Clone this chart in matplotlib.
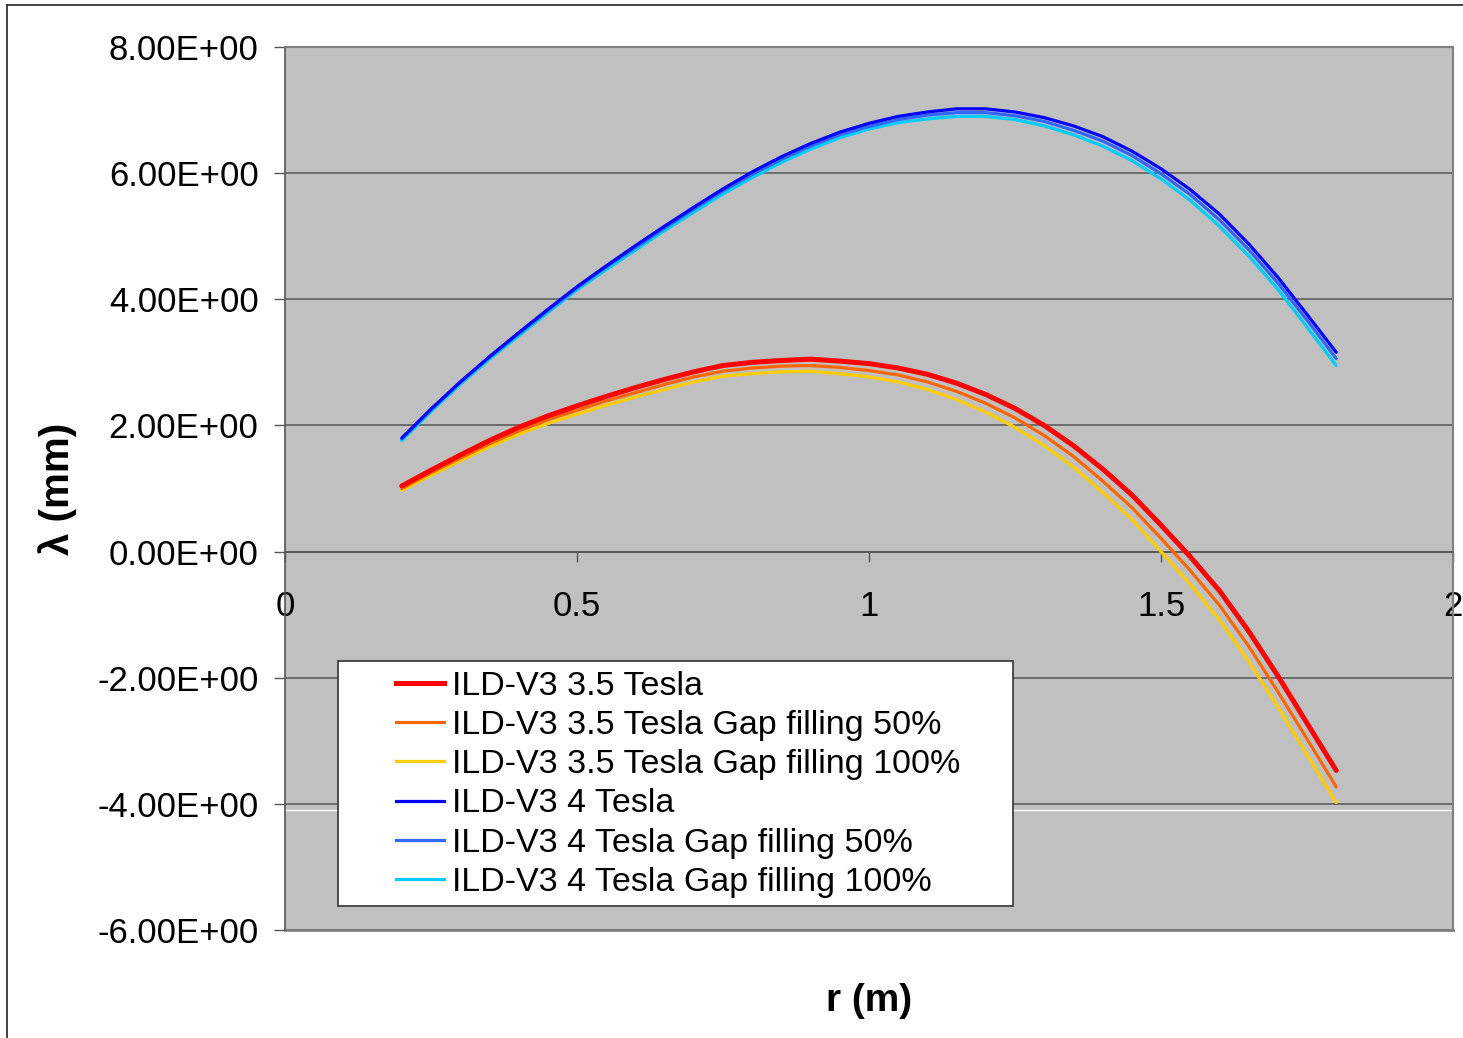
import numpy as np
import matplotlib
matplotlib.use("Agg")
import matplotlib.pyplot as plt
from matplotlib.patches import Rectangle
from matplotlib.lines import Line2D
from matplotlib.ticker import FuncFormatter

plt.rcParams["font.family"] = ["Liberation Sans", "DejaVu Sans"]

# rayon (m)
r = [0.20, 0.25, 0.30, 0.35, 0.40, 0.45, 0.50, 0.55, 0.60, 0.65, 0.70,
     0.75, 0.80, 0.85, 0.90, 0.95, 1.00, 1.05, 1.10, 1.15, 1.20, 1.25,
     1.30, 1.35, 1.40, 1.45, 1.50, 1.55, 1.60, 1.65, 1.70, 1.75, 1.80]

# lambda (mm), 3.5 Tesla
t35 = [1.04, 1.29, 1.53, 1.76, 1.97, 2.15, 2.31, 2.46, 2.60, 2.73, 2.85,
       2.95, 3.00, 3.03, 3.05, 3.02, 2.98, 2.91, 2.81, 2.67, 2.49, 2.27,
       2.00, 1.68, 1.31, 0.90, 0.42, -0.08, -0.62, -1.26, -1.97, -2.72, -3.47]
t35_gap50 = [1.00, 1.25, 1.48, 1.71, 1.91, 2.09, 2.24, 2.39, 2.52, 2.65, 2.77,
             2.86, 2.91, 2.94, 2.95, 2.92, 2.87, 2.80, 2.69, 2.54, 2.35, 2.12,
             1.84, 1.51, 1.12, 0.70, 0.21, -0.30, -0.85, -1.50, -2.22, -2.97, -3.73]
t35_gap100 = [0.97, 1.21, 1.44, 1.66, 1.86, 2.03, 2.18, 2.32, 2.45, 2.57, 2.69,
              2.78, 2.82, 2.85, 2.86, 2.82, 2.77, 2.69, 2.57, 2.41, 2.21, 1.97,
              1.68, 1.34, 0.94, 0.51, 0.00, -0.52, -1.08, -1.74, -2.46, -3.22, -3.98]

# lambda (mm), 4 Tesla
t4 = [1.80, 2.26, 2.69, 3.09, 3.47, 3.84, 4.20, 4.53, 4.85, 5.16, 5.46,
      5.75, 6.02, 6.26, 6.47, 6.65, 6.79, 6.90, 6.97, 7.02, 7.02, 6.97,
      6.88, 6.75, 6.58, 6.35, 6.07, 5.74, 5.35, 4.88, 4.35, 3.76, 3.16]
t4_gap50 = [1.79, 2.25, 2.68, 3.08, 3.45, 3.82, 4.18, 4.51, 4.82, 5.13, 5.43,
            5.72, 5.98, 6.22, 6.43, 6.61, 6.74, 6.85, 6.92, 6.96, 6.96, 6.91,
            6.82, 6.68, 6.51, 6.28, 5.99, 5.66, 5.26, 4.79, 4.26, 3.67, 3.06]
t4_gap100 = [1.76, 2.22, 2.65, 3.05, 3.42, 3.79, 4.15, 4.47, 4.78, 5.09, 5.38,
             5.67, 5.93, 6.17, 6.38, 6.56, 6.70, 6.80, 6.86, 6.90, 6.90, 6.85,
             6.75, 6.61, 6.43, 6.20, 5.91, 5.57, 5.16, 4.69, 4.16, 3.56, 2.95]

labels = ["ILD-V3 3.5 Tesla",
          "ILD-V3 3.5 Tesla Gap filling 50%",
          "ILD-V3 3.5 Tesla Gap filling 100%",
          "ILD-V3 4 Tesla",
          "ILD-V3 4 Tesla Gap filling 50%",
          "ILD-V3 4 Tesla Gap filling 100%"]
couleurs = ["#FF0000", "#FF6600", "#FFCC00", "#0000FF", "#3366FF", "#00CCFF"]
epaisseurs = [3.6, 2.3, 2.3, 2.3, 2.3, 2.3]
series = [t35, t35_gap50, t35_gap100, t4, t4_gap50, t4_gap100]

x_ticks = [0, 0.5, 1, 1.5, 2]
x_tick_labels = ["0", "0.5", "1", "1.5", "2"]
y_ticks = [-6, -4, -2, 0, 2, 4, 6, 8]

fig = plt.figure(figsize=(14.63, 10.38), dpi=100)
ax = fig.add_axes([285 / 1463, 1 - 930 / 1038, 1168 / 1463, 883 / 1038])
ax.set_facecolor("#C0C0C0")

# ordre de tracé : bleus d'abord, rouges par-dessus
for i in [5, 4, 3, 2, 1, 0]:
    ax.plot(r, series[i], color=couleurs[i], linewidth=epaisseurs[i],
            solid_capstyle="round", zorder=3)

ax.set_xlim(0, 2)
ax.set_ylim(-6, 8)
ax.set_yticks(y_ticks)
ax.yaxis.set_major_formatter(FuncFormatter(lambda v, p: "%.2fE+00" % v))
ax.set_xticks(x_ticks)
ax.set_xticklabels(x_tick_labels)

ax.grid(axis="y", color="#555555", linewidth=1.1, zorder=1)
ax.set_axisbelow(True)
ax.axhline(-4.1, color="white", linewidth=1.0, zorder=1.5)

for s in ["top", "right"]:
    ax.spines[s].set_color("#808080")
    ax.spines[s].set_linewidth(1.5)
ax.spines["left"].set_color("#555555")
ax.spines["left"].set_linewidth(1.2)
ax.spines["bottom"].set_position(("data", 0))
ax.spines["bottom"].set_color("#555555")
ax.spines["bottom"].set_linewidth(1.1)
ax.axhline(-6, color="#808080", linewidth=2, clip_on=False, zorder=2)

ax.tick_params(axis="y", direction="out", length=8, width=1, color="#555555",
               pad=11, labelsize=25)
ax.tick_params(axis="x", direction="out", length=7, width=1, color="#555555",
               pad=21, labelsize=25)

ax.set_xlabel("r (m)", fontsize=28, fontweight="bold")
ax.xaxis.set_label_coords(0.5, -0.060)
ax.set_ylabel("λ (mm)", fontsize=29, fontweight="bold")
ax.yaxis.set_label_coords(-0.178, 0.5)

# cadre de la légende
ax.add_patch(Rectangle((53 / 1168, 24 / 883), 675 / 1168, 245 / 883,
                       transform=ax.transAxes, facecolor="white",
                       edgecolor="#333333", linewidth=1.2, zorder=4))
handles = [Line2D([], [], color=couleurs[i], linewidth=epaisseurs[i]) for i in range(6)]
leg = ax.legend(handles, labels, loc="upper left",
                bbox_to_anchor=(111 / 1168, 259 / 883), frameon=False,
                fontsize=24.5, borderpad=0, borderaxespad=0, handlelength=1.4,
                handletextpad=0.25, labelspacing=0.24)
leg.set_zorder(5)

# bordure de la figure
fig.add_artist(Line2D([7 / 1463, 1], [1 - 5 / 1038, 1 - 5 / 1038], color="#222222", linewidth=1.2))
fig.add_artist(Line2D([7 / 1463, 7 / 1463], [0, 1 - 5 / 1038], color="#222222", linewidth=1.2))

fig.savefig("out.png", dpi=100)
